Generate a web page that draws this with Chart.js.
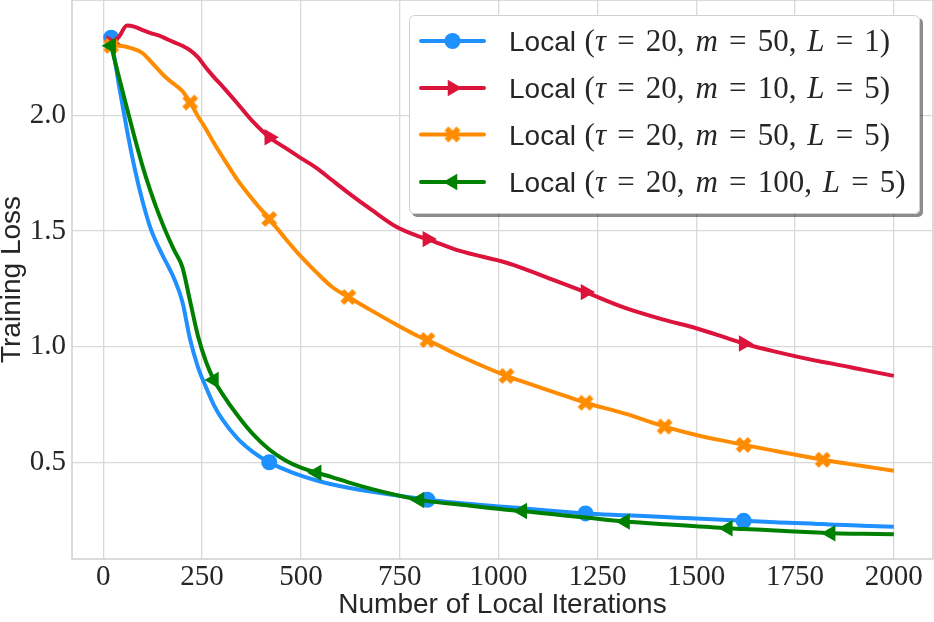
<!DOCTYPE html>
<html>
<head>
<meta charset="utf-8">
<script src="https://cdn.jsdelivr.net/npm/chart.js@4.4.1/dist/chart.umd.min.js"></script>
<style>
  html, body { margin: 0; padding: 0; background: #fff; }
</style>
</head>
<body>
<canvas id="myChart" width="934" height="622"></canvas>
<script>
// local iterations (x) and training loss per run
const iters = [20, 40, 60, 80, 100, 120, 140, 160, 180, 200, 220, 240, 260, 280, 300, 340, 380, 420, 460, 500,
  540, 580, 620, 680, 740, 800, 820, 900, 1020, 1060, 1140, 1220, 1320, 1420, 1500, 1580, 1620, 1700, 1820, 1840, 1920, 2000];

const lossM50L1 = [2.335, 2.127, 1.937, 1.767, 1.625, 1.51, 1.43, 1.362, 1.292, 1.195, 1.03, 0.91, 0.825, 0.748, 0.689, 0.603, 0.544, 0.501, 0.469, 0.443,
  0.422, 0.405, 0.391, 0.373, 0.358, 0.344, 0.339, 0.325, 0.308, 0.302, 0.29, 0.28, 0.272, 0.264, 0.258, 0.251, 0.248, 0.242, 0.234, 0.232, 0.227, 0.222];
const lossM10L5 = [2.31, 2.34, 2.388, 2.382, 2.368, 2.355, 2.345, 2.33, 2.315, 2.30, 2.28, 2.25, 2.205, 2.165, 2.128, 2.05, 1.97, 1.905, 1.86, 1.815,
  1.772, 1.718, 1.665, 1.59, 1.52, 1.476, 1.465, 1.415, 1.363, 1.34, 1.288, 1.236, 1.168, 1.116, 1.08, 1.036, 1.014, 0.979, 0.934, 0.928, 0.901, 0.874];
const lossM50L5 = [2.30, 2.30, 2.295, 2.285, 2.268, 2.233, 2.196, 2.161, 2.134, 2.105, 2.055, 1.995, 1.94, 1.88, 1.825, 1.72, 1.632, 1.552, 1.469, 1.39,
  1.32, 1.257, 1.215, 1.155, 1.097, 1.043, 1.029, 0.962, 0.874, 0.85, 0.804, 0.758, 0.711, 0.655, 0.619, 0.59, 0.576, 0.55, 0.512, 0.506, 0.485, 0.464];
const lossM100L5 = [2.30, 2.163, 2.03, 1.90, 1.777, 1.67, 1.575, 1.49, 1.415, 1.345, 1.195, 1.044, 0.935, 0.856, 0.80, 0.703, 0.62, 0.556, 0.51, 0.478,
  0.456, 0.436, 0.414, 0.385, 0.36, 0.338, 0.333, 0.318, 0.296, 0.29, 0.276, 0.262, 0.245, 0.233, 0.225, 0.216, 0.213, 0.206, 0.196, 0.194, 0.192, 0.19];

// iterations that carry a marker on each curve
const marksM50L1 = [20, 420, 820, 1220, 1620];
const marksM10L5 = [20, 420, 820, 1220, 1620];
const marksM50L5 = [20, 220, 420, 620, 820, 1020, 1220, 1420, 1620, 1820];
const marksM100L5 = [20, 280, 540, 800, 1060, 1320, 1580, 1840];

// run settings shown in the legend
const tauValues = [20, 20, 20, 20];
const mValues = [50, 10, 50, 100];
const lValues = [1, 5, 5, 5];

const xTicks = [0, 250, 500, 750, 1000, 1250, 1500, 1750, 2000];
const yTicks = [0.5, 1.0, 1.5, 2.0];

const ink = '#262626';
const gridColor = '#d9d9d9';
const serif = '"Liberation Serif", "DejaVu Serif", serif';
const sans = '"Liberation Sans", Arial, sans-serif';
const triRadius = 9.5;
const dotRadius = 8;

// filled "X" marker like matplotlib's
function makeX(color) {
  const c = document.createElement('canvas');
  c.width = 20; c.height = 20;
  const g = c.getContext('2d');
  g.strokeStyle = color;
  g.lineWidth = 5.5;
  g.lineCap = 'butt';
  g.beginPath();
  g.moveTo(4, 4); g.lineTo(16, 16);
  g.moveTo(16, 4); g.lineTo(4, 16);
  g.stroke();
  return c;
}
const orangeX = makeX('#FF8C00');

function series(values, marks, color, style, rotation, radius, order, idx) {
  return {
    label: 'Local (τ = ' + tauValues[idx] + ', m = ' + mValues[idx] + ', L = ' + lValues[idx] + ')',
    data: iters.map((x, i) => ({ x: x, y: values[i] })),
    borderColor: color,
    backgroundColor: color,
    borderWidth: 4,
    pointStyle: style,
    pointRotation: rotation,
    pointRadius: ctx => marks.includes(iters[ctx.dataIndex]) ? radius : 0,
    pointHoverRadius: 0,
    pointBorderWidth: 0,
    cubicInterpolationMode: 'monotone',
    clip: 10,
    order: order,
    runIndex: idx
  };
}

const datasets = [
  series(lossM50L1, marksM50L1, '#1E90FF', 'circle', 0, dotRadius, 4, 0),
  series(lossM10L5, marksM10L5, '#DC143C', 'triangle', 90, triRadius, 3, 1),
  series(lossM50L5, marksM50L5, '#FF8C00', orangeX, 0, 2, 2, 2),
  series(lossM100L5, marksM100L5, '#008000', 'triangle', -90, triRadius, 1, 3)
];

// light frame round the plot area (seaborn whitegrid spines)
const frame = {
  id: 'frame',
  beforeDatasetsDraw(chart) {
    const a = chart.chartArea, ctx = chart.ctx;
    ctx.save();
    ctx.strokeStyle = '#cfcfcf';
    ctx.lineWidth = 1.5;
    ctx.strokeRect(a.left, a.top, a.right - a.left, a.bottom - a.top);
    ctx.restore();
  }
};

// legend text: sans word followed by TeX-like math
const mathSize = 31;
function legendTokens(i) {
  return [
    ['sans', 'Local'], ['gap', 0.28], ['rm', '('], ['it', 'τ'], ['rel', '='], ['rm', tauValues[i] + ','], ['gap', 0.35],
    ['it', 'm'], ['rel', '='], ['rm', mValues[i] + ','], ['gap', 0.35],
    ['it', 'L'], ['rel', '='], ['rm', lValues[i] + ')']
  ];
}

function drawTokens(ctx, tokens, x, y) {
  tokens.forEach(([kind, t]) => {
    if (kind === 'gap') { x += t * mathSize; return; }
    if (kind === 'sans') ctx.font = '28px ' + sans;
    else if (kind === 'it') ctx.font = 'italic ' + mathSize + 'px ' + serif;
    else ctx.font = mathSize + 'px ' + serif;
    if (kind === 'rel') {
      const g = 0.36 * mathSize;
      ctx.fillText(t, x + g, y);
      x += g * 2 + ctx.measureText(t).width;
    } else {
      ctx.fillText(t, x, y);
      x += ctx.measureText(t).width;
    }
  });
}

const mathLegend = {
  id: 'mathLegend',
  afterDraw(chart) {
    const ctx = chart.ctx;
    const bx = 409, by = 15, bw = 511, bh = 199, rr = 5;
    ctx.save();
    ctx.fillStyle = 'rgba(0,0,0,0.45)';
    roundRect(ctx, bx + 3, by + 3, bw, bh, rr); ctx.fill();
    ctx.fillStyle = '#ffffff';
    roundRect(ctx, bx, by, bw, bh, rr); ctx.fill();
    ctx.strokeStyle = '#d0d0d0'; ctx.lineWidth = 1;
    roundRect(ctx, bx + 0.5, by + 0.5, bw - 1, bh - 1, rr); ctx.stroke();

    const rowY = [41, 88, 134.5, 182];
    const byRun = chart.data.datasets.slice().sort((p, q) => p.runIndex - q.runIndex);
    byRun.forEach((ds, i) => {
      const y = rowY[i];
      ctx.strokeStyle = ds.borderColor; ctx.lineWidth = 4; ctx.lineCap = 'round';
      ctx.beginPath(); ctx.moveTo(421, y); ctx.lineTo(484, y); ctx.stroke();
      drawMarker(ctx, ds, 452.5, y);
      ctx.fillStyle = ink; ctx.textBaseline = 'alphabetic'; ctx.textAlign = 'left';
      drawTokens(ctx, legendTokens(i), 509, y + 10);
    });
    ctx.restore();
  }
};

function roundRect(ctx, x, y, w, h, r) {
  ctx.beginPath();
  ctx.moveTo(x + r, y);
  ctx.arcTo(x + w, y, x + w, y + h, r);
  ctx.arcTo(x + w, y + h, x, y + h, r);
  ctx.arcTo(x, y + h, x, y, r);
  ctx.arcTo(x, y, x + w, y, r);
  ctx.closePath();
}

function drawMarker(ctx, ds, x, y) {
  ctx.save();
  ctx.fillStyle = ds.backgroundColor;
  if (typeof ds.pointStyle === 'object') {
    ctx.drawImage(ds.pointStyle, x - ds.pointStyle.width / 2, y - ds.pointStyle.height / 2);
  } else if (ds.pointStyle === 'circle') {
    ctx.beginPath(); ctx.arc(x, y, dotRadius, 0, Math.PI * 2); ctx.fill();
  } else {
    let rad = ds.pointRotation * Math.PI / 180;
    ctx.beginPath();
    for (let k = 0; k < 3; k++) {
      const px = x + Math.sin(rad) * triRadius, py = y - Math.cos(rad) * triRadius;
      if (k === 0) ctx.moveTo(px, py); else ctx.lineTo(px, py);
      rad += Math.PI * 2 / 3;
    }
    ctx.closePath(); ctx.fill();
  }
  ctx.restore();
}

new Chart(document.getElementById('myChart'), {
  type: 'line',
  data: { datasets: datasets },
  options: {
    responsive: false,
    animation: false,
    events: [],
    layout: { padding: { left: 0, right: 1, top: 0, bottom: 0 }, autoPadding: false },
    plugins: { legend: { display: false }, tooltip: { enabled: false } },
    scales: {
      x: {
        type: 'linear',
        min: -79,
        max: 2099,
        afterBuildTicks: ax => { ax.ticks = xTicks.map(v => ({ value: v })); },
        afterFit: ax => { ax.height = 63; ax.paddingLeft = 0; ax.paddingRight = 0; },
        ticks: { font: { family: serif, size: 29 }, color: ink, padding: 1, autoSkip: false, maxRotation: 0, callback: v => String(v) },
        grid: { color: gridColor, lineWidth: 1.3, drawTicks: false },
        border: { display: false },
        title: { display: true, text: 'Number of Local Iterations', color: ink,
          font: { family: sans, size: 28, lineHeight: 0.85 }, padding: { top: 0, bottom: 5 } }
      },
      y: {
        type: 'linear',
        min: 0.083,
        max: 2.498,
        afterBuildTicks: ax => { ax.ticks = yTicks.map(v => ({ value: v })); },
        afterFit: ax => { ax.width = 72; ax.paddingTop = 0; ax.paddingBottom = 0; },
        ticks: { font: { family: serif, size: 29 }, color: ink, padding: 6, autoSkip: false, callback: v => v.toFixed(1) },
        grid: { color: gridColor, lineWidth: 1.3, drawTicks: false },
        border: { display: false },
        title: { display: true, text: 'Training Loss', color: ink,
          font: { family: sans, size: 28, lineHeight: 0.85 }, padding: { top: 0, bottom: 0 } }
      }
    }
  },
  plugins: [frame, mathLegend]
});
</script>
</body>
</html>
